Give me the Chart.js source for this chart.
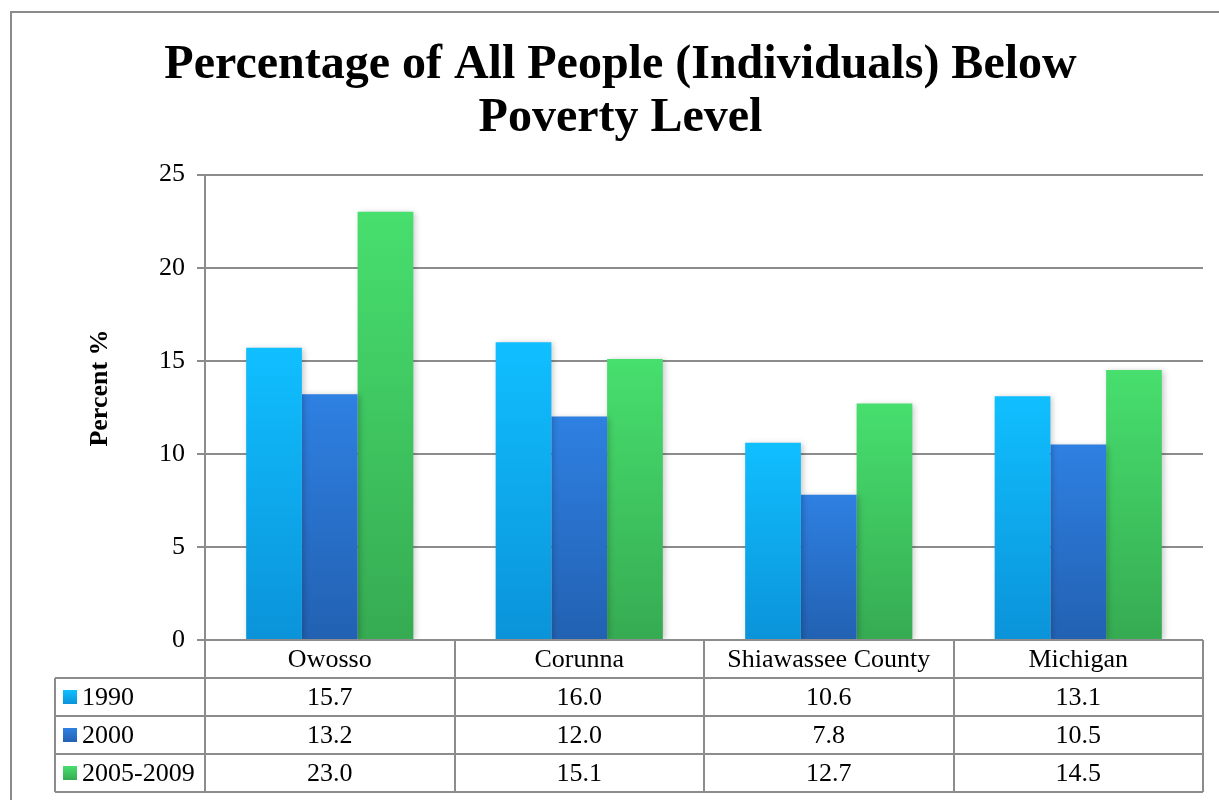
<!DOCTYPE html>
<html>
<head>
<meta charset="utf-8">
<script src="https://cdn.jsdelivr.net/npm/chart.js@4/dist/chart.umd.min.js"></script>
<style>
  html, body { margin: 0; padding: 0; background: #fff; }
  #wrap { width: 1219px; height: 800px; }
</style>
</head>
<body>
<div id="wrap"><canvas id="povChart" width="1219" height="800"></canvas></div>
<script>
// data
var places = ['Owosso', 'Corunna', 'Shiawassee County', 'Michigan'];
var seriesNames = ['1990', '2000', '2005-2009'];
var v1990 = [15.7, 16.0, 10.6, 13.1];
var v2000 = [13.2, 12.0, 7.8, 10.5];
var v2005 = [23.0, 15.1, 12.7, 14.5];
var yTicks = [0, 5, 10, 15, 20, 25];

// gradient top / bottom colours
var topCol = ['#10bfff', '#2e80e2', '#47df6e'];
var botCol = ['#0b93d9', '#2261b2', '#36ab52'];
var gridCol = '#8c8c8c';
var serif = "'Liberation Serif', 'Times New Roman', serif";

function barGradient(i) {
  return function (ctx) {
    var chart = ctx.chart;
    if (!chart.chartArea || !ctx.parsed) return topCol[i];
    var ys = chart.scales.y;
    var yTop = ys.getPixelForValue(ctx.parsed.y);
    var yBot = ys.getPixelForValue(0);
    if (!isFinite(yTop) || yTop === yBot) return topCol[i];
    var g = chart.ctx.createLinearGradient(0, yTop, 0, yBot);
    g.addColorStop(0, topCol[i]);
    g.addColorStop(1, botCol[i]);
    return g;
  };
}

var allVals = [v1990, v2000, v2005];
var datasets = seriesNames.map(function (n, i) {
  return {
    label: n,
    data: allVals[i],
    backgroundColor: barGradient(i),
    borderWidth: 0,
    categoryPercentage: 0.67,
    barPercentage: 1.0
  };
});

// shadow behind the bars
var barShadow = {
  id: 'barShadow',
  beforeDatasetsDraw: function (chart) {
    var c = chart.ctx;
    c.save();
    c.shadowColor = 'rgba(0,0,0,0.22)';
    c.shadowBlur = 6;
    c.shadowOffsetX = 2;
    c.shadowOffsetY = 1;
  },
  afterDatasetsDraw: function (chart) {
    chart.ctx.restore();
  }
};

// frame, axis title and the data table under the plot
var extras = {
  id: 'extras',
  beforeDraw: function (chart) {
    var c = chart.ctx;
    c.save();
    c.fillStyle = '#fff';
    c.fillRect(0, 0, chart.width, chart.height);
    c.strokeStyle = '#8a8a8a';
    c.lineWidth = 2;
    c.strokeRect(11, 12, chart.width + 20, chart.height + 20);
    c.restore();
  },
  afterDraw: function (chart) {
    var c = chart.ctx;
    var a = chart.chartArea;
    var xs = chart.scales.x;
    var rowH = 38;
    var tableLeft = 55;
    var step = (a.right - a.left) / places.length;
    c.save();

    // y axis title
    c.save();
    c.translate(100, 388);
    c.rotate(-Math.PI / 2);
    c.fillStyle = '#000';
    c.font = 'bold 26px ' + serif;
    c.textAlign = 'center';
    c.textBaseline = 'middle';
    c.fillText('Percent %', 0, 0);
    c.restore();

    c.strokeStyle = gridCol;
    c.lineWidth = 2;
    c.beginPath();
    // header row (top edge is the axis line)
    c.moveTo(a.left, a.bottom);
    c.lineTo(a.right, a.bottom);
    for (var r = 1; r <= seriesNames.length + 1; r++) {
      var yy = a.bottom + r * rowH;
      c.moveTo(tableLeft, yy);
      c.lineTo(a.right, yy);
    }
    for (var k = 0; k <= places.length; k++) {
      var xx = Math.round(a.left + k * step);
      c.moveTo(xx, a.bottom);
      c.lineTo(xx, a.bottom + (seriesNames.length + 1) * rowH);
    }
    c.moveTo(tableLeft, a.bottom + rowH);
    c.lineTo(tableLeft, a.bottom + (seriesNames.length + 1) * rowH);
    c.stroke();

    c.fillStyle = '#000';
    c.font = '26px ' + serif;
    c.textAlign = 'center';
    c.textBaseline = 'middle';
    places.forEach(function (p, i) {
      c.fillText(p, xs.getPixelForValue(i), a.bottom + rowH / 2 + 1);
    });
    allVals.forEach(function (vals, s) {
      var yMid = a.bottom + (s + 1) * rowH + rowH / 2 + 1;
      vals.forEach(function (v, i) {
        c.fillText(v.toFixed(1), xs.getPixelForValue(i), yMid);
      });
    });
    // legend keys
    c.textAlign = 'left';
    seriesNames.forEach(function (n, s) {
      var yMid = a.bottom + (s + 1) * rowH + rowH / 2;
      var g = c.createLinearGradient(0, yMid - 7, 0, yMid + 7);
      g.addColorStop(0, topCol[s]);
      g.addColorStop(1, botCol[s]);
      c.fillStyle = g;
      c.fillRect(63, yMid - 7, 14, 14);
      c.fillStyle = '#000';
      c.fillText(n, 82, yMid + 1);
    });
    c.restore();
  }
};

var povConfig = {
  type: 'bar',
  data: { labels: places, datasets: datasets },
  options: {
    responsive: false,
    animation: false,
    events: [],
    layout: { padding: { left: 38, right: 16, top: 39, bottom: 0 } },
    plugins: {
      legend: { display: false },
      tooltip: { enabled: false },
      title: {
        display: true,
        text: ['Percentage of All People (Individuals) Below', 'Poverty Level'],
        color: '#000',
        font: { family: serif, size: 48, weight: 'bold', lineHeight: 1.1 },
        padding: { top: 0, bottom: 30 }
      }
    },
    scales: {
      x: {
        ticks: { display: false },
        grid: { display: false },
        border: { display: false },
        afterFit: function (s) { s.height = 160; }
      },
      y: {
        min: 0,
        max: 25,
        afterBuildTicks: function (s) {
          s.ticks = yTicks.map(function (v) { return { value: v }; });
        },
        afterFit: function (s) { s.width = 167; },
        ticks: {
          color: '#000',
          padding: 12,
          font: { family: serif, size: 26 }
        },
        grid: { color: gridCol, lineWidth: 2, tickLength: 8 },
        border: { color: gridCol, width: 2 }
      }
    }
  },
  plugins: [barShadow, extras]
};

var povChart = new Chart(document.getElementById('povChart'), povConfig);
</script>
</body>
</html>
